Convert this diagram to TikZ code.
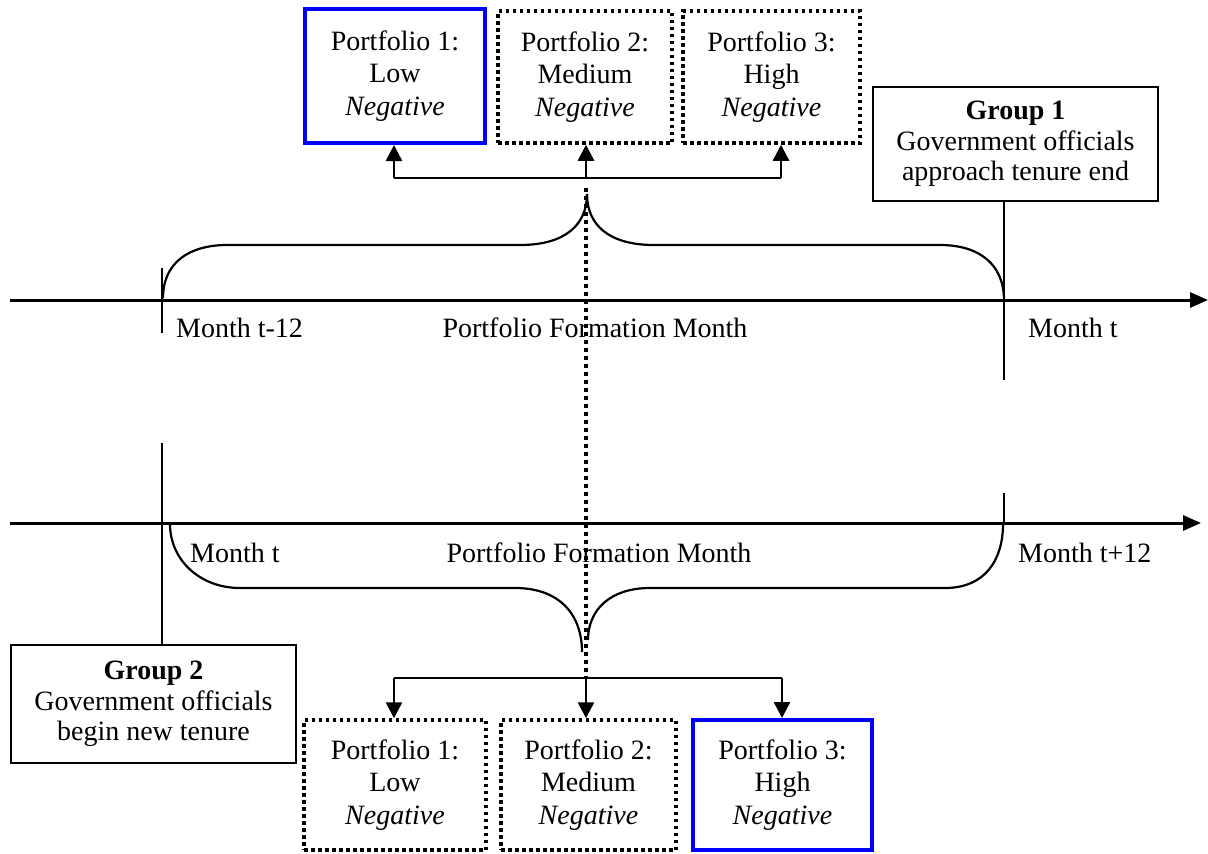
\documentclass[tikz,border=0pt]{standalone}
\usepackage{fontspec}
\setmainfont{Liberation Serif}
\usetikzlibrary{arrows.meta}
\definecolor{pureblue}{rgb}{0.000000,0.000000,1.000000}
\tikzset{
  pbox/.style={inner sep=0pt, align=center, font=\fontsize{28}{32.5}\selectfont},
  solidbox/.style={pbox, draw=pureblue, line width=4pt},
  dotbox/.style={pbox, draw=black, line width=3.5pt, dash pattern=on 3.5pt off 3.5pt},
  groupbox/.style={draw=black, line width=1.8pt, inner sep=0pt, align=center,
    minimum width=285pt, font=\fontsize{28}{30.5}\selectfont},
  axis/.style={line width=3pt, -{Triangle[length=18pt,width=15pt]}},
  tick/.style={line width=2.2pt},
  brace/.style={line width=2.2pt},
  link/.style={line width=2.6pt},
  arr/.style={line width=2.6pt, -{Triangle[length=16pt,width=16pt]}},
  spine/.style={line width=4pt, dash pattern=on 4pt off 4pt},
  lbl/.style={inner sep=0pt, font=\fontsize{28}{30}\selectfont}
}
\begin{document}
\begin{tikzpicture}[x=1pt,y=-1pt]
\useasboundingbox (0,0) rectangle (1208,854);

% Portfolios formed before month t (top row)
\node [solidbox, minimum width=180pt, minimum height=134pt] (p1t) at (395.0,76.0)
  {Portfolio 1:\\Low\\\textit{Negative}};
\node [dotbox, minimum width=174pt, minimum height=132pt] (p2t) at (585.0,77.0)
  {Portfolio 2:\\Medium\\\textit{Negative}};
\node [dotbox, minimum width=177pt, minimum height=132pt] (p3t) at (771.5,77.0)
  {Portfolio 3:\\High\\\textit{Negative}};

% Group 1 box
\node [groupbox, minimum height=114pt] (g1) at (1015.5,144.0)
  {\textbf{Group 1}\\Government officials\\approach tenure end};

% Drawing top axis
\coordinate (axTa) at (10,300);
\coordinate (axTb) at (1208,300);
\draw [axis] (axTa) -- (axTb);
\coordinate (tkTa) at (162,268);
\coordinate (tkTb) at (162,333);
\draw [tick] (tkTa) -- (tkTb);
\coordinate (tkTr) at (1004,380);
\draw [tick] (g1.south -| tkTr) -- (tkTr);

% Marking months on top axis
\node [lbl, anchor=base west] (mTa) at (176,337) {Month t-12};
\node [lbl, anchor=base] (fmT) at (595,337) {Portfolio Formation Month};
\node [lbl, anchor=base west] (mTb) at (1028,337) {Month t};

% Top brace
\coordinate (brTtip) at (587,194);
\draw [brace] (163,298) .. controls (163,262) and (190,245) .. (227,245) -- (520,245)
  .. controls (565,245) and (587,225) .. (brTtip);
\draw [brace] (brTtip) .. controls (587,225) and (609,245) .. (654,245) -- (940,245)
  .. controls (980,245) and (1004,265) .. (1004,300);

% Top connector with arrows
\coordinate (topL) at (394,178);
\coordinate (topM) at (586,178);
\coordinate (topR) at (781,178);
\draw [link] (topL) -- (topR);
\draw [arr] (topL) -- (topL |- p1t.south);
\draw [arr] (topM) -- (topM |- p2t.south);
\draw [arr] (topR) -- (topR |- p3t.south);

% Dotted spine through both axes
\coordinate (spA) at (586,188);
\coordinate (spB) at (586,677);
\draw [spine] (spA) -- (spB);

% Group 2 box
\node [groupbox, minimum height=118pt] (g2) at (153.5,704.0)
  {\textbf{Group 2}\\Government officials\\begin new tenure};

% Drawing bottom axis
\coordinate (axBa) at (10,523);
\coordinate (axBb) at (1201,523);
\draw [axis] (axBa) -- (axBb);
\coordinate (tkBl) at (162,443);
\draw [tick] (tkBl) -- (tkBl |- g2.north);
\coordinate (tkBa) at (1004,493);
\coordinate (tkBb) at (1004,523);
\draw [tick] (tkBa) -- (tkBb);

% Marking months on bottom axis
\node [lbl, anchor=base west] (mBa) at (190,562) {Month t};
\node [lbl, anchor=base] (fmB) at (599,562) {Portfolio Formation Month};
\node [lbl, anchor=base west] (mBb) at (1018,562) {Month t+12};

% Bottom brace
\draw [brace] (170,524) .. controls (170,560) and (200,588) .. (240,588) -- (515,588)
  .. controls (560,588) and (582,615) .. (582,652);
\draw [brace] (588,640) .. controls (588,610) and (610,588) .. (650,588) -- (945,588)
  .. controls (985,588) and (1003,560) .. (1003,524);

% Portfolios formed after month t (bottom row)
\node [dotbox, minimum width=182pt, minimum height=130pt] (p1b) at (395.0,785.0)
  {Portfolio 1:\\Low\\\textit{Negative}};
\node [dotbox, minimum width=175pt, minimum height=130pt] (p2b) at (588.5,785.0)
  {Portfolio 2:\\Medium\\\textit{Negative}};
\node [solidbox, minimum width=179pt, minimum height=130pt] (p3b) at (782.5,785.0)
  {Portfolio 3:\\High\\\textit{Negative}};

% Bottom connector with arrows
\coordinate (botL) at (394,678);
\coordinate (botM) at (586,678);
\coordinate (botR) at (782,678);
\draw [link] (botL) -- (botR);
\draw [arr] (botL) -- (botL |- p1b.north);
\draw [arr] (botM) -- (botM |- p2b.north);
\draw [arr] (botR) -- (botR |- p3b.north);
\end{tikzpicture}
\end{document}
